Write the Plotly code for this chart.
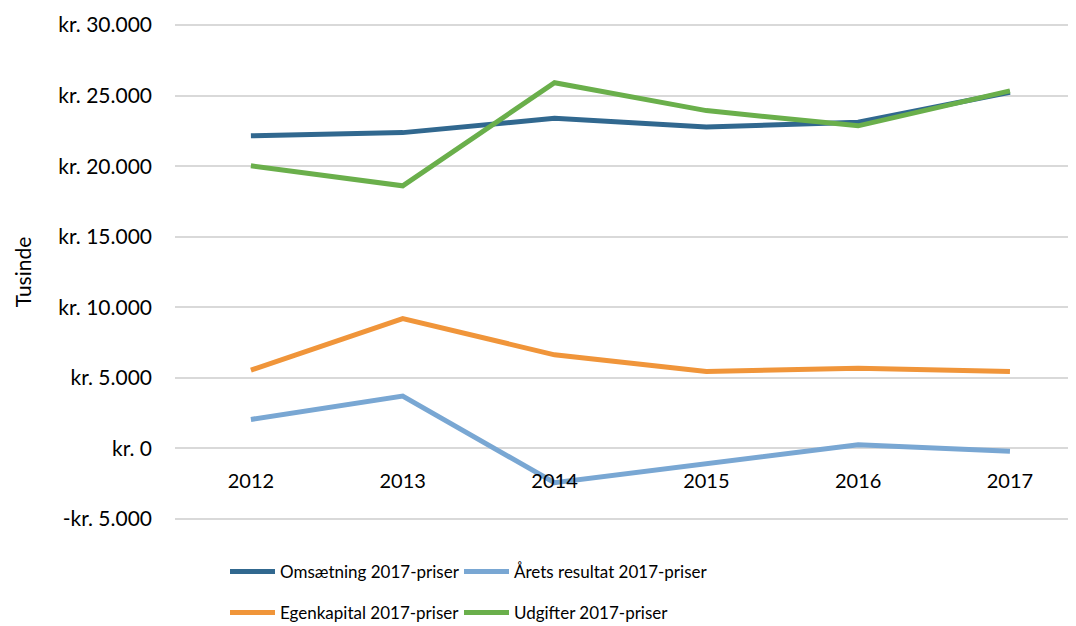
import plotly.graph_objects as go

# Data (tusinde kr., 2017-priser)
years = ["2012", "2013", "2014", "2015", "2016", "2017"]
omsaetning = [22150, 22380, 23400, 22770, 23120, 25240]
aarets_resultat = [2050, 3700, -2430, -1060, 260, -210]
egenkapital = [5540, 9200, 6630, 5450, 5680, 5450]
udgifter = [20030, 18610, 25920, 23940, 22860, 25340]

y_tickvals = [-5000, 0, 5000, 10000, 15000, 20000, 25000, 30000]
y_ticktext = ["-kr. 5.000", "kr. 0", "kr. 5.000", "kr. 10.000", "kr. 15.000",
              "kr. 20.000", "kr. 25.000", "kr. 30.000"]

FONT = "Lato"

fig = go.Figure()

# one legend per entry so the 2x2 grid sits where the original has it
series = [
    ("Omsætning 2017-priser", omsaetning, "#31688f", "legend"),
    ("Årets resultat 2017-priser", aarets_resultat, "#79a7d3", "legend2"),
    ("Egenkapital 2017-priser", egenkapital, "#f0953a", "legend3"),
    ("Udgifter 2017-priser", udgifter, "#6aaf4b", "legend4"),
]
for name, vals, color, leg in series:
    fig.add_trace(go.Scatter(
        x=years, y=vals, mode="lines", name=name,
        line=dict(color=color, width=5),
        legend=leg,
    ))

# y range padded a little so the edge gridlines are not clipped
y_lo, y_hi = -5150, 30150
zero_pos = (0 - y_lo) / (y_hi - y_lo)

plot_w = 901
plot_h = 498
col1 = (225 - 175) / plot_w
col2 = (459 - 175) / plot_w
row1 = (521 - 572) / plot_h
row2 = (521 - 613) / plot_h


def leg(x, y):
    return dict(x=x, xanchor="left", y=y, yanchor="middle",
                itemwidth=45, font=dict(family=FONT, size=17),
                bgcolor="rgba(0,0,0,0)")


fig.update_layout(
    width=1076, height=626,
    margin=dict(l=167, r=8, t=15, b=113, autoexpand=False),
    plot_bgcolor="white", paper_bgcolor="white",
    font=dict(family=FONT, size=19, color="#000000"),
    showlegend=True,
    xaxis=dict(
        type="category", range=[-0.5, 5.435],
        anchor="free", position=zero_pos,
        showgrid=False, showline=False, zeroline=False,
        ticks="", ticklabelstandoff=19,
        tickfont=dict(family=FONT, size=20),
    ),
    yaxis=dict(
        range=[y_lo, y_hi], tickvals=y_tickvals, ticktext=y_ticktext,
        showgrid=True, gridcolor="#d9d9d9", gridwidth=1.5,
        zeroline=False, showline=False, ticks="",
        ticklabelstandoff=22,
        tickfont=dict(family=FONT, size=21),
        title=dict(text="Tusinde", font=dict(family=FONT, size=21), standoff=20),
    ),
    legend=leg(col1, row1),
    legend2=leg(col2, row1),
    legend3=leg(col1, row2),
    legend4=leg(col2, row2),
)

fig.write_html("out.html")
